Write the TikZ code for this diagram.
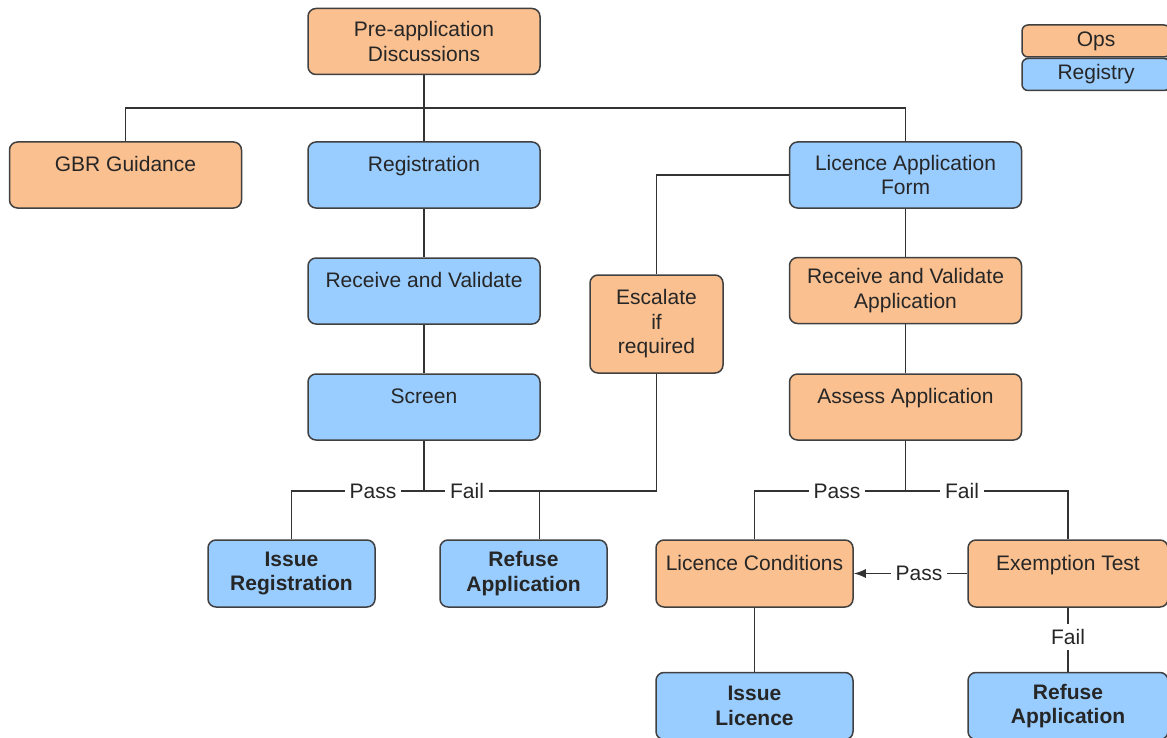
\documentclass[tikz,border=0pt]{standalone}
\usepackage{fontspec}
\setmainfont{Liberation Sans}
\usetikzlibrary{arrows.meta}
\definecolor{opsfill}{HTML}{FAC090}
\definecolor{regfill}{HTML}{99CCFF}
\definecolor{boxedge}{HTML}{404040}

\begin{document}
\begin{tikzpicture}[x=0.5pt, y=-0.5pt,
		box/.style={draw=boxedge, line width=0.75pt, rounded corners=4pt, align=center, inner sep=2pt, minimum width=116pt, minimum height=33pt, text=black!85, font=\fontsize{10.5}{12.25}\selectfont},
		opsbox/.style={box, fill=opsfill},
		regbox/.style={box, fill=regfill},
		oneline/.style={inner ysep=0pt, text height=14.8pt, text depth=18.2pt},
		result/.style={regbox, minimum height=33.5pt, font=\fontsize{10.5}{12.25}\selectfont\bfseries},
		keybox/.style={minimum width=74pt, minimum height=16pt, inner sep=0pt, rounded corners=3pt},
		lbl/.style={fill=white, inner sep=2.5pt, text=black!85, font=\fontsize{10.5}{12.25}\selectfont},
		line/.style={line width=0.7pt, black!80}]
		\path[use as bounding box, clip] (0,0) rectangle (1167,738);
		
		% top row
		\node[opsbox] (pre) at (424,41.5) {Pre-application\\Discussions};
		\node[opsbox, oneline] (gbr) at (125.5,175) {GBR Guidance};
		\node[regbox, oneline] (registration) at (424,175) {Registration};
		\node[regbox] (laf) at (905.5,175) {Licence Application\\Form};
		
		% registration side
		\node[regbox, oneline] (rcv) at (424,291) {Receive and Validate};
		\node[regbox, oneline] (screen) at (424,407) {Screen};
		\node[result, minimum width=83.5pt] (issreg) at (291.5,573.5) {Issue\\Registration};
		\node[result, minimum width=83.5pt] (refreg) at (523.5,573.5) {Refuse\\Application};
		
		% licence side
		\node[opsbox, minimum width=66.5pt, minimum height=49pt] (esc) at (656.5,324) {Escalate\\if\\required};
		\node[opsbox] (rcvapp) at (905.5,290.5) {Receive and Validate\\Application};
		\node[opsbox, oneline] (assess) at (905.5,407) {Assess Application};
		\node[opsbox, oneline, minimum width=98.5pt, minimum height=33.5pt] (lcond) at (754.5,573.5) {Licence Conditions};
		\node[opsbox, oneline, minimum width=100pt, minimum height=33.5pt] (exempt) at (1068,573.5) {Exemption Test};
		\node[result, minimum width=98.5pt] (isslic) at (754.5,706) {Issue\\Licence};
		\node[result, minimum width=100pt] (refapp) at (1068,706) {Refuse\\Application};
		
		% key
		\node[opsbox, keybox] (keyops) at (1096,41) {Ops};
		\node[regbox, keybox] (keyreg) at (1096,74.5) {Registry};
		
		% connectors
		\coordinate (bus) at (424,108);
		\draw[line] (pre.south) -- (bus);
		\draw[line] (gbr.north) |- (bus) -| (laf.north);
		\draw[line] (registration.north) -- (bus);
		\draw[line] (registration) -- (rcv);
		\draw[line] (rcv) -- (screen);
		\coordinate (split1) at (424,491);
		\draw[line] (screen.south) -- (split1) -| (issreg.north);
		\draw[line] (laf.west) -| (esc.north);
		\draw[line] (esc.south) |- (split1);
		\draw[line] ([xshift=8pt]refreg.north) -- ([xshift=8pt]refreg.north |- split1);
		
		\draw[line] (laf) -- (rcvapp);
		\draw[line] (rcvapp) -- (assess);
		\coordinate (split2) at (905.5,491);
		\draw[line] (assess.south) -- (split2);
		\draw[line] (lcond.north) |- (split2) -| (exempt.north);
		\draw[line, -{Latex[length=6pt, width=4.5pt]}] (exempt.west) -- (lcond.east);
		\draw[line] (exempt) -- (refapp);
		\draw[line] (lcond) -- (isslic);
		
		% pass / fail labels
		\node[lbl] (pass1) at (373,491) {Pass};
		\node[lbl] (fail1) at (467,491) {Fail};
		\node[lbl] (pass2) at (837,491) {Pass};
		\node[lbl] (fail2) at (962,491) {Fail};
		\node[lbl] (pass3) at (919,573.5) {Pass};
		\node[lbl] (fail3) at (1068,637) {Fail};
		
	\end{tikzpicture}
\end{document}
